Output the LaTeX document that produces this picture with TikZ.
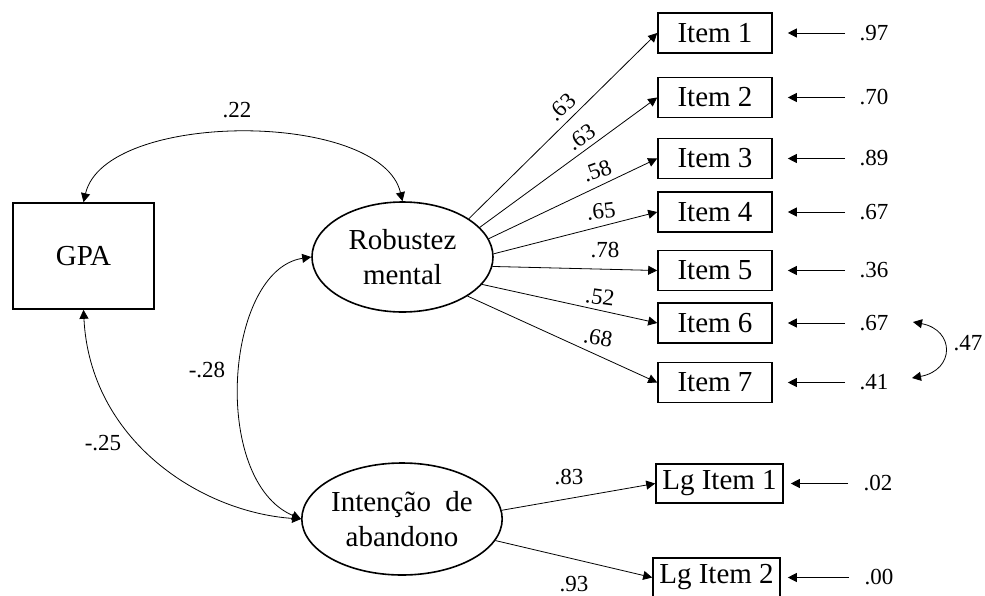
\documentclass[tikz,border=0pt]{standalone}
\usepackage{fontspec}
\setmainfont{Liberation Serif}
\usetikzlibrary{arrows.meta,shapes.geometric}

\begin{document}
\begin{tikzpicture}[x=0.5pt,y=-0.5pt,
  item/.style={draw,line width=0.8pt,minimum width=57pt,minimum height=20pt,inner sep=1pt,font=\fontsize{14.5}{17}\selectfont},
  lgitem/.style={item,minimum width=63.5pt,minimum height=19.5pt,inner xsep=0.5pt},
  latent/.style={draw,ellipse,line width=0.8pt,inner sep=0pt,align=center,font=\fontsize{14.5}{17.5}\selectfont},
  lbl/.style={inner sep=0pt,font=\fontsize{11.5}{13}\selectfont},
  load/.style={line width=0.4pt,-{Triangle[length=4.5pt,width=4.5pt]}},
  resid/.style={line width=0.5pt,-{Triangle[length=4.5pt,width=4.5pt]}},
  covar/.style={line width=0.4pt,{Triangle[length=4.5pt,width=4.5pt]}-{Triangle[length=4.5pt,width=4.5pt]}}
]
\useasboundingbox (0,0) rectangle (985,595);

% GPA and the two factors
\node[draw,line width=0.8pt,minimum width=70.5pt,minimum height=53pt,font=\fontsize{14.5}{17}\selectfont] (gpa) at (83.5,256) {GPA};
\node[latent,minimum width=90.5pt,minimum height=55pt] (rob) at (402.5,257) {Robustez\\mental};
\node[latent,minimum width=100pt,minimum height=56pt] (int) at (402,519) {Intenção\ \ de\\abandono};

% Items of Robustez mental with residuals
\foreach \n/\y/\r in {1/33/.97, 2/97.5/.70, 3/158.5/.89, 4/212/.67, 5/270.5/.36, 6/323/.67, 7/382.5/.41} {
    \node[item] (i\n) at (715,\y) {Item \n};
    \node[lbl] (r\n) at (874,\y) {\r};
    \draw[resid,shorten <=7pt,shorten >=7.5pt] (r\n.west) -- (i\n.east);
}

% Loadings
\foreach \n/\s/\x/\y/\a/\v in {1/30/562/107/44/.63, 2/21/581/137/34/.63, 3/12/597/171/20/.58, 4/2/601/211/7/.65, 5/-6/605/250/0/.78, 6/-19/600/297/-8/.52, 7/-31/598/338/-10/.68} {
    \draw[load] (rob.\s) -- (i\n.west);
    \node[lbl,rotate=\a] (w\n) at (\x,\y) {\v};
}

% Items of Intenção de abandono
\node[lgitem] (lg1) at (719.5,483.5) {Lg Item 1};
\node[lgitem] (lg2) at (716.5,577.5) {Lg Item 2};
\node[lbl] (e1) at (878,483.5) {.02};
\node[lbl] (e2) at (879,577.5) {.00};
\draw[resid,shorten <=7.5pt,shorten >=3.5pt] (e1.west) -- (lg1.east);
\draw[resid,shorten <=7.5pt,shorten >=3.5pt] (e2.west) -- (lg2.east);
\draw[load] (int.5) -- (lg1.west);
\draw[load] (int.-13) -- (lg2.west);
\node[lbl] (w8) at (569,477) {.83};
\node[lbl] (w9) at (574,584) {.93};

% Covariances
\draw[covar] (gpa.north) .. controls (105,110) and (381,110) .. (rob.north);
\node[lbl] (c1) at (237,110) {.22};
\draw[covar] (gpa.south) .. controls (90,440) and (200,512) .. (int.west);
\node[lbl] (c2) at (103,443) {-.25};
\draw[covar] (rob.west) .. controls (225,270) and (210,480) .. (int.west);
\node[lbl] (c3) at (207,370) {-.28};

% Residual covariance Item 6 - Item 7
\coordinate (u6) at (913,322);
\coordinate (u7) at (912,378);
\draw[covar] (u6) .. controls (955,330) and (955,370) .. (u7);
\node[lbl] (c4) at (968,343) {.47};

\end{tikzpicture}
\end{document}
